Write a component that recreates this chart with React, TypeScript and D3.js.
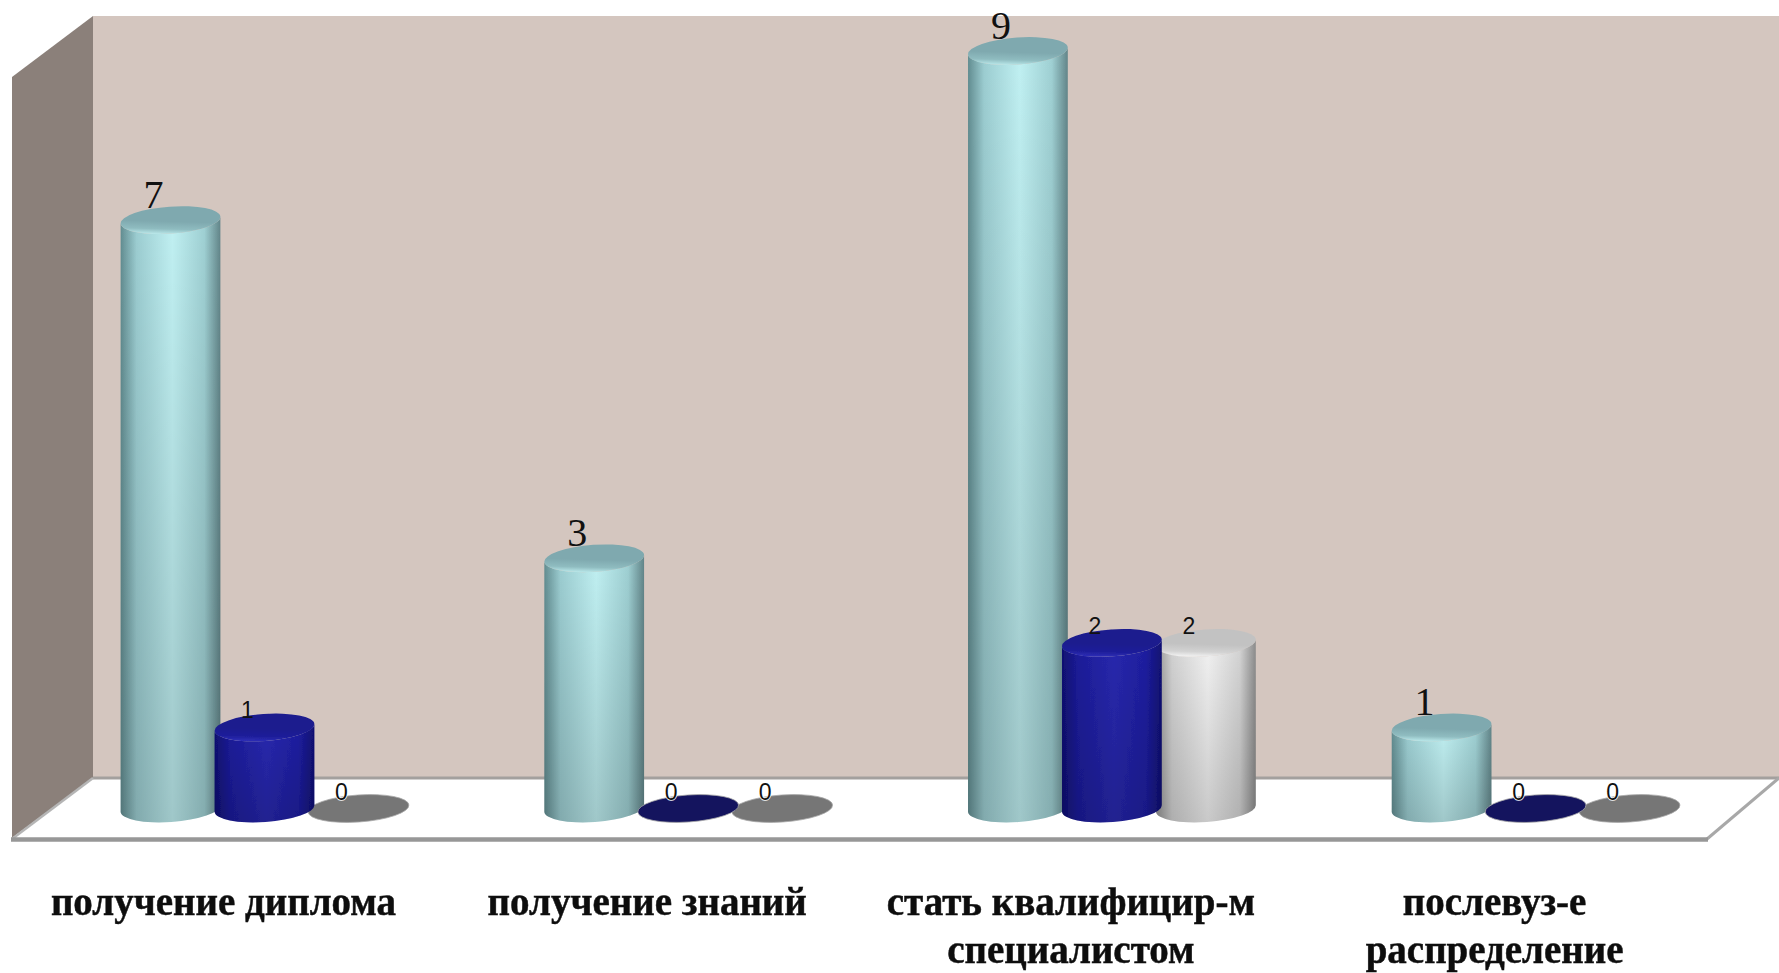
import React from "react";
import * as d3 from "d3";

const W = 1779, H = 973;
const categories = ["получение диплома", "получение знаний", "стать квалифицир-м специалистом", "послевуз-е распределение"];
const categoryLines = [["получение диплома"], ["получение знаний"], ["стать квалифицир-м", "специалистом"], ["послевуз-е", "распределение"]];
const seriesNames = ["a", "b", "c"];
const valuesA = [7, 3, 9, 1];
const valuesB = [1, 0, 2, 0];
const valuesC = [0, 0, 2, 0];
const seriesValues = [valuesA, valuesB, valuesC];
const sideStops = [
  ["#628d91", "#9ccdd1", "#c0f0f2", "#9fd0d3", "#628589"],
  ["#101072", "#1c1c9a", "#2828ae", "#1e1ea0", "#101072"],
  ["#929292", "#d2d2d2", "#f2f2f2", "#d4d4d4", "#8c8c8c"],
];
const topColors = ["#7fa9af", "#1a1a8e", "#c2c2c2"];
const topMidColors = ["#8fbcc0", "#1e1e9a", "#d2d2d2"];
const rimColors = ["#b8e6e8", "#2e2eb6", "#f2f2f2"];
const zeroColors = ["#82adb2", "#14145e", "#767676"];
const drawOrder = [2, 0, 1];

const x0 = d3.scaleBand<string>().domain(categories).range([52.65, 1747.45]);
const x1 = d3.scalePoint<string>().domain(seriesNames).range([-94, 94]);
const y = d3.scaleLinear().domain([0, 9]).range([812, 51]);
const baseY = y(0) - 3.5;
const RX = 50, RY = 13.5, TILT = -4;
const dx = RX * Math.cos((TILT * Math.PI) / 180);
const dy = RX * Math.sin((TILT * Math.PI) / 180);

function ell(cx: number, cy: number, rx = RX, ry = RY) {
  const ax = rx * Math.cos((TILT * Math.PI) / 180);
  const ay = rx * Math.sin((TILT * Math.PI) / 180);
  return `M${cx - ax},${cy - ay}A${rx},${ry} ${TILT} 1 1 ${cx + ax},${cy + ay}A${rx},${ry} ${TILT} 1 1 ${cx - ax},${cy - ay}Z`;
}
function body(cx: number, top: number, base: number) {
  return `M${cx - dx},${top - dy}L${cx - dx},${base - dy}A${RX},${RY} ${TILT} 0 0 ${cx + dx},${base + dy}L${cx + dx},${top + dy}A${RX},${RY} ${TILT} 0 1 ${cx - dx},${top - dy}Z`;
}

export default function App() {
  const marks = categories.flatMap((c, ci) =>
    drawOrder.map((si) => ({ c, ci, si, v: seriesValues[si][ci], cx: x0(c)! + x0.bandwidth() / 2 + x1(seriesNames[si])! }))
  );
  const wall = d3.line()([[93, 16], [W, 16], [W, 778], [93, 778]]) + "Z";
  const side = d3.line()([[12, 77], [93, 16], [93, 778], [12, 838]]) + "Z";
  const floor = d3.line()([[93, 778], [W, 778], [1707, 838], [12, 838]]) + "Z";
  return (
    <svg width={W} height={H} style={{ position: "absolute", left: 0, top: 0, display: "block", background: "#fff" }}>
      <defs>
        {seriesNames.map((s, i) => (
          <linearGradient key={s} id={`side${i}`} x1="0" x2="1" y1="0" y2="0">
            {[0, 0.16, 0.52, 0.84, 1].map((o, k) => (
              <stop key={k} offset={o} stopColor={sideStops[i][k]} />
            ))}
          </linearGradient>
        ))}
        {seriesNames.map((s, i) => (
          <linearGradient key={s} id={`top${i}`} x1="0.55" x2="0.45" y1="0" y2="1">
            <stop offset="0" stopColor={topColors[i]} />
            <stop offset="0.55" stopColor={topColors[i]} />
            <stop offset="0.82" stopColor={topMidColors[i]} />
            <stop offset="1" stopColor={rimColors[i]} />
          </linearGradient>
        ))}
        <linearGradient id="fade" x1="0" x2="0" y1="0" y2="1">
          <stop offset="0" stopColor="#000" stopOpacity="0" />
          <stop offset="1" stopColor="#000" stopOpacity="0.17" />
        </linearGradient>
        <filter id="soft" x="-5%" y="-20%" width="110%" height="140%">
          <feGaussianBlur stdDeviation="0.6" />
        </filter>
      </defs>
      <path d={wall} fill="#d4c6bf" />
      <path d={side} fill="#8b807a" />
      <path d={floor} fill="#ffffff" />
      <line x1={93} y1={778} x2={W} y2={778} stroke="#a3a09e" strokeWidth={3} />
      <line x1={12} y1={839} x2={93} y2={778} stroke="#b5b5b5" strokeWidth={2.5} />
      <line x1={1707} y1={839} x2={W} y2={778} stroke="#a8a8a8" strokeWidth={3} />
      <line x1={11} y1={839.5} x2={1708} y2={839.5} stroke="#979797" strokeWidth={4.5} />

      {marks.map(({ c, si, v, cx }) => {
        const top = y(v);
        if (v === 0) {
          return <path key={c + si} d={ell(cx, baseY, RX + 0.5)} fill={zeroColors[si]} stroke="#aaa" strokeWidth={0.8} />;
        }
        return (
          <g key={c + si} filter="url(#soft)">
            <path d={body(cx, top, baseY)} fill={`url(#side${si})`} />
            <path d={body(cx, top, baseY)} fill="url(#fade)" />
            <path d={ell(cx, top, RX, RY)} fill={`url(#top${si})`} />
          </g>
        );
      })}

      {marks.map(({ c, si, v, cx }) => (
        <text
          key={c + si}
          x={cx - 17}
          y={y(v) - (si === 0 ? 12 : v === 0 ? 12 : 9)}
          textAnchor="middle"
          fontFamily={si === 0 ? "'Liberation Serif', serif" : "'Liberation Sans', sans-serif"}
          fontSize={si === 0 ? 40 : 23}
          fill="#111"
          stroke={v === 0 ? "#fff" : "none"}
          strokeWidth={v === 0 ? 1.5 : 0}
          style={{ paintOrder: "stroke" }}
        >
          {v}
        </text>
      ))}

      {categories.map((c, i) => (
        <text
          key={c}
          textAnchor="middle"
          fontFamily="'Liberation Serif', serif"
          fontWeight="bold"
          fontSize={39}
          fill="#111"
          stroke="#111"
          strokeWidth={0.5}
          filter="url(#soft)"
        >
          {categoryLines[i].map((line, k) => (
            <tspan key={k} x={x0(c)! + x0.bandwidth() / 2 - 41} y={915 + k * 48}>
              {line}
            </tspan>
          ))}
        </text>
      ))}
    </svg>
  );
}
